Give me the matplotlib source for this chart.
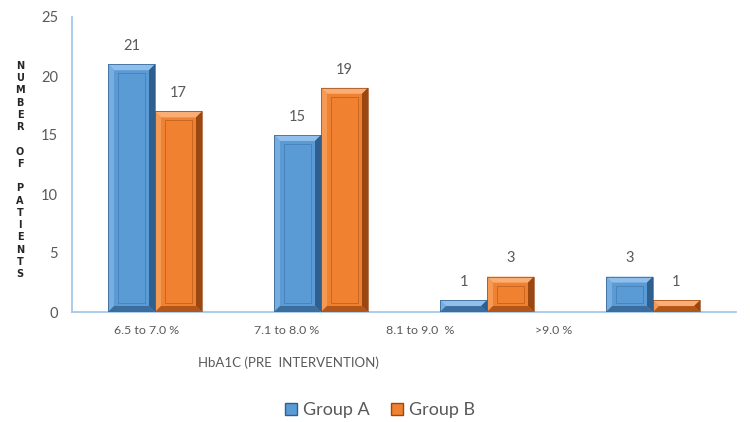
import matplotlib
matplotlib.use("Agg")
import matplotlib.pyplot as plt
from matplotlib.patches import Polygon, Rectangle, Patch
import numpy as np

categories = ["6.5 to 7.0 %", "7.1 to 8.0 %", "8.1 to 9.0  %", ">9.0 %"]
group_a = [21, 15, 1, 3]
group_b = [17, 19, 3, 1]
series_names = ["Group A", "Group B"]
y_ticks = [0, 5, 10, 15, 20, 25]

plt.rcParams['font.family'] = ['Lato', 'DejaVu Sans']
TXT = "#595959"

fig = plt.figure(figsize=(7.5, 4.22), dpi=100)
ax = fig.add_axes([72/750, 1-312/422, 664/750, 295/422])

x = np.arange(len(categories))
bw = 0.283

blue = dict(face="#5B9BD5", top="#8FBFEA", left="#78ADE0", right="#2E5F8E", bottom="#3B6E9E", line="#4680B8")
orange = dict(face="#F08130", top="#F8AE74", left="#F49A55", right="#9A4712", bottom="#B2561A", line="#C0621F")

def bevel_bar(ax, x0, w, h, c):
    px_x = (ax.get_xlim()[1]-ax.get_xlim()[0]) / 664.0
    px_y = (ax.get_ylim()[1]-ax.get_ylim()[0]) / 295.0
    bx = 6*px_x
    by = min(6*px_y, h/2.0)
    ax.bar([x0], [h], width=w, align='edge', color=c["face"], edgecolor='none', zorder=2)
    x1 = x0 + w
    polys = [
        ([(x0, h), (x1, h), (x1-bx, h-by), (x0+bx, h-by)], c["top"]),
        ([(x0, 0), (x0, h), (x0+bx, h-by), (x0+bx, by)], c["left"]),
        ([(x1, 0), (x1, h), (x1-bx, h-by), (x1-bx, by)], c["right"]),
        ([(x0, 0), (x1, 0), (x1-bx, by), (x0+bx, by)], c["bottom"]),
    ]
    for pts, col in polys:
        ax.add_patch(Polygon(pts, closed=True, facecolor=col, edgecolor='none', zorder=3))
    if h - 2*by > 3*px_y:
        ax.add_patch(Rectangle((x0+bx+4*px_x, by+3*px_y), w-2*bx-8*px_x, h-2*by-6*px_y,
                               fill=False, edgecolor=c["line"], linewidth=0.6, zorder=4))
    ax.add_patch(Rectangle((x0, 0), w, h, fill=False, edgecolor=c["right"], linewidth=0.5, zorder=5))

ax.set_xlim(-0.5, len(categories)-0.5)
ax.set_ylim(0, 25)

for i in range(len(categories)):
    bevel_bar(ax, x[i]-bw, bw, group_a[i], blue)
    bevel_bar(ax, x[i], bw, group_b[i], orange)
    ax.text(x[i]-bw/2, group_a[i] + 0.95, str(group_a[i]), ha='center', va='bottom', fontsize=10.5, color=TXT)
    ax.text(x[i]+bw/2, group_b[i] + 0.95, str(group_b[i]), ha='center', va='bottom', fontsize=10.5, color=TXT)

ax.set_yticks(y_ticks)
ax.set_yticklabels([str(t) for t in y_ticks], fontsize=10.5, color=TXT)
ax.tick_params(axis='y', length=0, pad=10)

label_pos = [-0.05, 0.79, 1.60, 2.40]
ax.set_xticks(label_pos)
ax.set_xticklabels(categories, fontsize=8.9, color=TXT)
ax.tick_params(axis='x', length=0, pad=9)

for s in ['top', 'right']:
    ax.spines[s].set_visible(False)
for s in ['left', 'bottom']:
    ax.spines[s].set_color("#9DC3E6")
    ax.spines[s].set_linewidth(1.2)

fig.text(288/750, 1-363/422, "HbA1C (PRE  INTERVENTION)", ha='center', va='center', fontsize=9.5, color=TXT)

ylab = "N\nU\nM\nB\nE\nR\n\nO\nF\n\nP\nA\nT\nI\nE\nN\nT\nS"
fig.text(20/750, 1-170/422, ylab, ha='center', va='center', fontsize=7, color="#262626",
         fontweight='bold', linespacing=1.28, family=['DejaVu Sans'])

handles = [Patch(facecolor=blue["face"], edgecolor=blue["right"]),
           Patch(facecolor=orange["face"], edgecolor=orange["right"])]
fig.legend(handles, series_names, loc='center', bbox_to_anchor=(380/750, 1-410/422), ncol=2,
           frameon=False, fontsize=13, handlelength=0.65, handleheight=0.65, handletextpad=0.35,
           columnspacing=1.2, labelcolor=TXT)

fig.savefig("out.png", dpi=100)
